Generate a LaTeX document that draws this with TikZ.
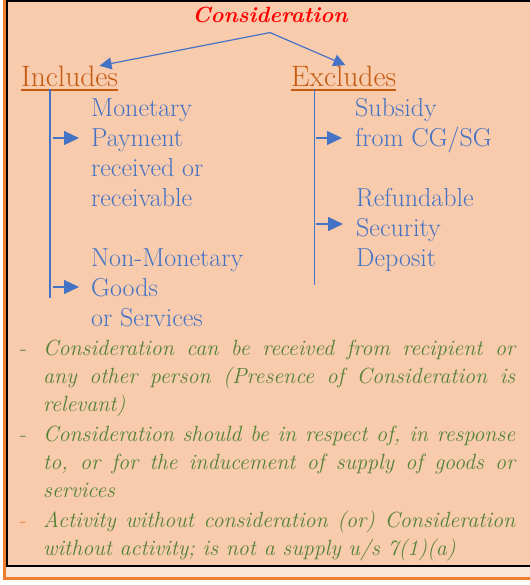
\documentclass[tikz,border=0pt]{standalone}
\usepackage{xcolor}
\usetikzlibrary{arrows.meta, positioning}
\definecolor{conred}{HTML}{FF0000}
\definecolor{headbrown}{HTML}{C55A11}
\definecolor{itemblue}{HTML}{4472C4}
\definecolor{notegreen}{HTML}{548235}
\definecolor{boxfill}{HTML}{F8CBAD}
\definecolor{bandfill}{HTML}{FBE5D6}
\definecolor{frameorange}{HTML}{ED7D31}
\tikzset{
    titletext/.style={
        inner sep=0pt,
        text=conred,
        font=\fontsize{22}{28}\selectfont\bfseries\itshape
    },
    heading/.style={
        inner sep=0pt,
        text=headbrown,
        font=\fontsize{29.5}{30}\selectfont
    },
    itemtext/.style={
        inner sep=0pt,
        align=left,
        text=itemblue,
        font=\fontsize{26}{30}\selectfont
    },
    notetext/.style={
        inner sep=0pt,
        text width=472pt,
        align=justify,
        text=notegreen,
        font=\fontsize{22}{28.3}\selectfont\itshape
    },
    dashmark/.style={
        inner sep=0pt,
        font=\fontsize{22}{28}\selectfont
    },
    link/.style={
        draw=itemblue,
        line width=1.2pt,
        -{Triangle[length=12pt,width=12pt]}
    },
    branch/.style={
        draw=itemblue,
        line width=1.2pt,
        -{Triangle[length=15pt,width=14pt]}
    },
    trunk/.style={
        draw=itemblue,
        line width=1.3pt
    },
    uline/.style={
        draw=headbrown,
        line width=1.5pt
    }
}
\begin{document}
\begin{tikzpicture}[x=1pt, y=-1pt]
\useasboundingbox (0,0) rectangle (529,585);

% Frame
\draw[frameorange, fill=bandfill, line width=2.5pt] (4.5,-5) rectangle (540,578.5);
\draw[black, fill=boxfill, line width=2pt] (6.5,1.5) rectangle (540,566);

% Title and headings
\node[titletext, anchor=base] (title) at (270,23) {Consideration};
\coordinate[below=9pt of title.south] (fork);
\node[heading, anchor=base west] (incl) at (21,87) {Includes};
\node[heading, anchor=base west] (excl) at (291,87) {Excludes};
\draw[uline] ([yshift=-3pt]incl.base west) -- ([yshift=-3pt]incl.base east);
\draw[uline] ([yshift=-3pt]excl.base west) -- ([yshift=-3pt]excl.base east);

\draw[link, shorten >=3pt] (fork) -- ([xshift=27pt]incl.north);
\draw[link, shorten >=3pt] (fork) -- ([xshift=4.5pt]excl.north);

% Includes (base = last line)
\node[itemtext, anchor=base west] (mon) at (91,207) {Monetary\\Payment\\received or\\receivable};
\node[itemtext, anchor=base west] (nonmon) at (91,326) {Non-Monetary\\Goods\\or Services};

\coordinate (itop) at (50,89);
\coordinate (ibot) at (50,298);
\draw[trunk] (itop) -- (ibot);
\coordinate (ia1) at (52.5,138);
\coordinate (ia2) at (52.5,287);
\draw[branch, shorten >=12pt] (ia1) -- (ia1 -| mon.west);
\draw[branch, shorten >=12pt] (ia2) -- (ia2 -| nonmon.west);

% Excludes
\node[itemtext, anchor=base west] (subs) at (355,147) {Subsidy\\from CG/SG};
\node[itemtext, anchor=base west] (refund) at (356,266) {Refundable\\Security\\Deposit};

\coordinate (etop) at (314.5,89);
\coordinate (ebot) at (314.5,285);
\draw[trunk] (etop) -- (ebot);
\coordinate (ea1) at (316,138);
\coordinate (ea2) at (316,224);
\draw[branch, shorten >=13pt] (ea1) -- (ea1 -| subs.west);
\draw[branch, shorten >=13pt] (ea2) -- (ea2 -| refund.west);

% Notes
\node[notetext, anchor=base west] (note1) at (43,355) {Consideration can be received from recipient or\linebreak any other person (Presence of Consideration is\linebreak relevant)};
\node[notetext, anchor=base west] (note2) at (43,441) {Consideration should be in respect of, in response\linebreak to, or for the inducement of supply of goods or\linebreak services};
\node[notetext, anchor=base west] (note3) at (43,527) {Activity without consideration (or) Consideration\linebreak without activity; is not a supply u/s 7(1)(a)};

\node[dashmark, text=notegreen, anchor=base east] (dash1) at ([xshift=-16pt]note1.base west) {-};
\node[dashmark, text=notegreen, anchor=base east] (dash2) at ([xshift=-16pt]note2.base west) {-};
\node[dashmark, text=frameorange, anchor=base east] (dash3) at ([xshift=-16pt]note3.base west) {-};

\end{tikzpicture}
\end{document}
